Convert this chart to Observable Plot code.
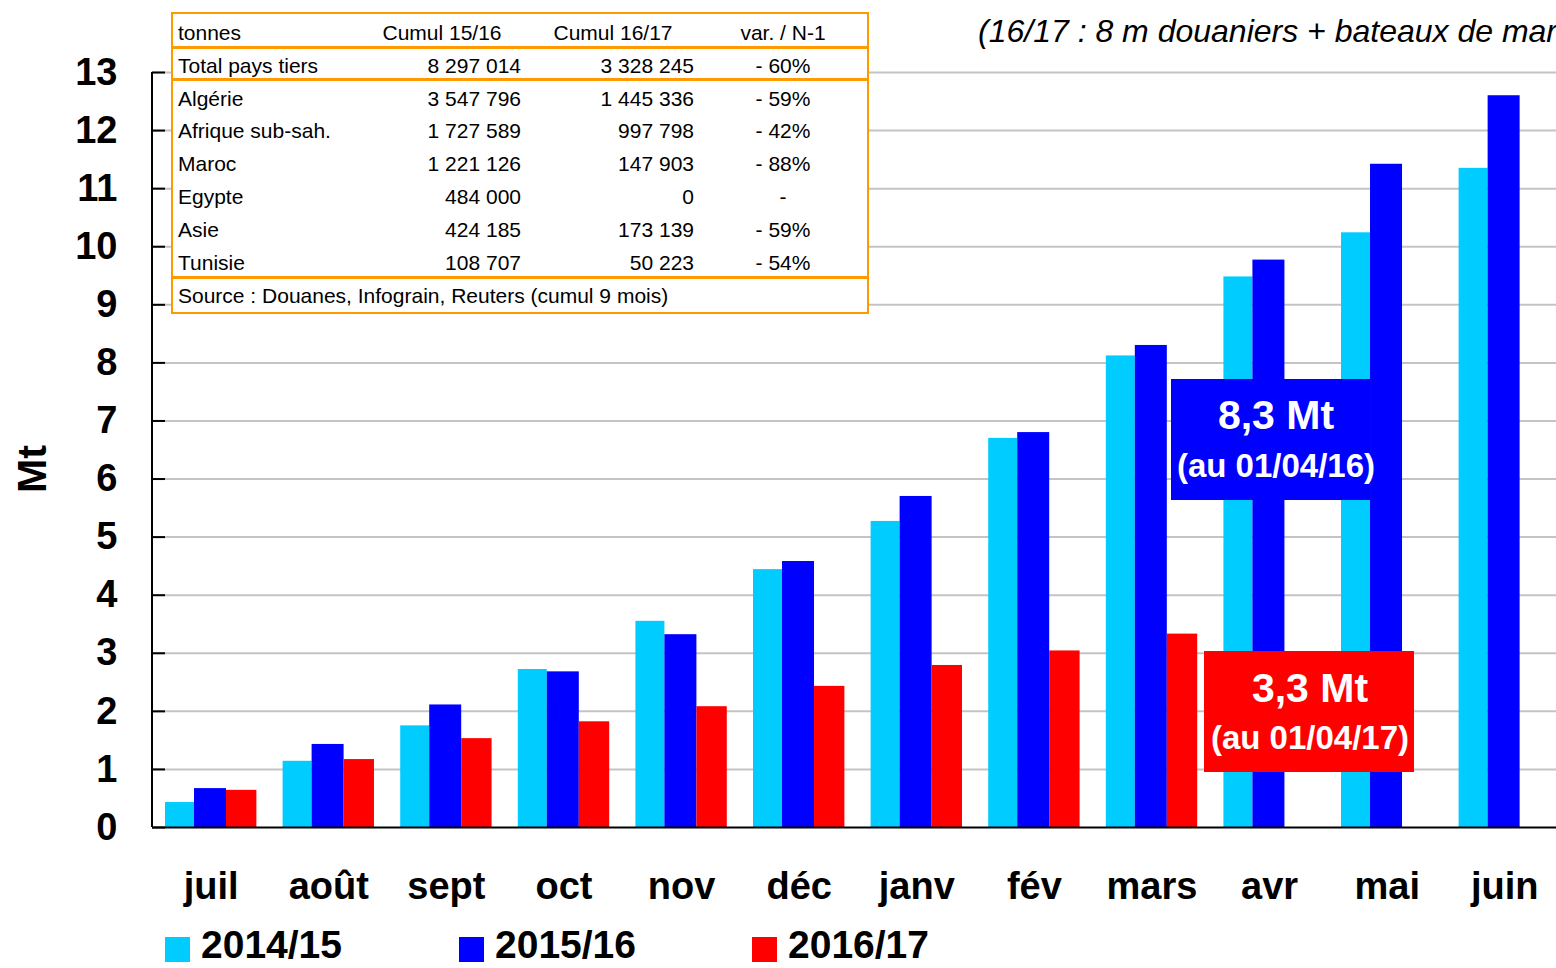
<!DOCTYPE html>
<html><head><meta charset="utf-8">
<script src="https://cdn.jsdelivr.net/npm/d3@7"></script>
<script src="https://cdn.jsdelivr.net/npm/@observablehq/plot@0.6"></script>
<style>
body{margin:0;background:#fff;}
#wrap{position:relative;width:1556px;height:968px;overflow:hidden;font-family:"Liberation Sans",Arial,sans-serif;color:#000;}
.abs{position:absolute;white-space:nowrap;}
#wrap svg{display:block;}
</style></head><body><div id="wrap"></div>
<script>
// ---- data ----
const months = ["juil","août","sept","oct","nov","déc","janv","fév","mars","avr","mai","juin"];
const seriesNames = ["2014/15","2015/16","2016/17"];
const seriesColors = ["#00CCFF","#0000FF","#FF0000"];
const v1415 = [0.43,1.14,1.75,2.72,3.55,4.44,5.27,6.70,8.12,9.48,10.24,11.35];
const v1516 = [0.67,1.43,2.11,2.68,3.32,4.58,5.70,6.80,8.30,9.77,11.42,12.60];
const v1617 = [0.64,1.17,1.53,1.82,2.08,2.43,2.79,3.04,3.33];
const yTicks = [0,1,2,3,4,5,6,7,8,9,10,11,12,13];
const yLabel = "Mt";
const tableHeader = ["tonnes","Cumul 15/16","Cumul 16/17","var. / N-1"];
const tableTotal = ["Total pays tiers","8 297 014","3 328 245","- 60%"];
const tableRows = [
  ["Algérie","3 547 796","1 445 336","- 59%"],
  ["Afrique sub-sah.","1 727 589","997 798","- 42%"],
  ["Maroc","1 221 126","147 903","- 88%"],
  ["Egypte","484 000","0","-"],
  ["Asie","424 185","173 139","- 59%"],
  ["Tunisie","108 707","50 223","- 54%"]
];
const tableSource = "Source : Douanes, Infograin, Reuters (cumul 9 mois)";
const subtitle = "(16/17 : 8 m douaniers + bateaux de mar";
const notes = [
  {big:"8,3 Mt", small:"(au 01/04/16)"},
  {big:"3,3 Mt", small:"(au 01/04/17)"}
];

// ---- build ----
const allSeries = [v1415, v1516, v1617];
const data = months.flatMap((m,i) => allSeries.map((arr,k) => arr[i] != null ? {month:m, series:seriesNames[k], value:arr[i]} : null).filter(Boolean));

const W = 1556, H = 925, ML = 152, MR = 0, MT = 72, MB = 98;
const xRange = [165, 1550], pad = 0.223;
const step = (xRange[1]-xRange[0])/(months.length - pad);
const bw = step*(1-pad);
const splits = [0, 29, 61, bw];

const barMarks = seriesNames.map((s,k) => Plot.barY(data.filter(d => d.series === s), {
  x:"month", y:"value", fill: seriesColors[k],
  insetLeft: splits[k], insetRight: bw - splits[k+1]
}));

const chart = Plot.plot({
  width: W, height: H,
  marginLeft: ML, marginRight: MR, marginTop: MT, marginBottom: MB,
  x: {domain: months, range: xRange, paddingInner: pad, paddingOuter: 0, round: false, label: null},
  y: {domain: [0,13], label: null},
  style: {fontFamily: '"Liberation Sans", Arial, sans-serif', fontWeight: "bold", fontSize: "38px", color: "#000", background: "transparent", overflow: "visible"},
  marks: [
    Plot.ruleY(yTicks.filter(d => d > 0), {stroke: "#c4c4c4", strokeWidth: 2}),
    ...barMarks,
    Plot.tickY(yTicks, {y: d => d, stroke: "#000", strokeWidth: 2, insetRight: W - ML - MR - 13}),
    Plot.rect([0], {y1: 0, y2: 13, fill: "#000", insetLeft: -1, insetRight: W - ML - MR - 1}),
    Plot.ruleY([0], {stroke: "#000", strokeWidth: 2}),
    Plot.axisX({tickSize: 0, tickPadding: 45, fontSize: 38, fontWeight: "bold", label: null}),
    Plot.axisY({ticks: yTicks, tickSize: 0, tickPadding: 35, fontSize: 38, fontWeight: "bold", label: null})
  ]
});

const wrap = document.getElementById("wrap");
wrap.appendChild(chart);

function el(css, text, parent = wrap) {
  const d = document.createElement("div");
  d.className = "abs";
  d.style.cssText = css;
  if (text != null) d.textContent = text;
  parent.appendChild(d);
  return d;
}

// y label
el(`left:32px;top:469px;transform:translate(-50%,-50%) rotate(-90deg);font-size:41px;font-weight:bold;line-height:1;`, yLabel);

// subtitle
el(`left:978px;top:15px;font-size:32px;font-style:italic;line-height:32px;`, subtitle);

// table box
el(`left:171px;top:12px;width:698px;height:302px;box-sizing:border-box;border:2px solid #FF9900;background:#fff;`);
[47, 79, 277].forEach(y => el(`left:171px;top:${y-1.5}px;width:698px;height:3px;background:#FF9900;`));
const rowCenters = [33, 66, 99, 131, 164, 197, 230, 263, 296];
const fs = "font-size:21px;line-height:24px;";
function row(cells, yc, header) {
  const top = yc - 12;
  el(`left:178px;top:${top}px;${fs}`, cells[0]);
  if (header) {
    el(`left:442px;top:${top}px;transform:translateX(-50%);${fs}`, cells[1]);
    el(`left:613px;top:${top}px;transform:translateX(-50%);${fs}`, cells[2]);
  } else {
    el(`right:${W-521}px;top:${top}px;${fs}`, cells[1]);
    el(`right:${W-694}px;top:${top}px;${fs}`, cells[2]);
  }
  el(`left:783px;top:${top}px;transform:translateX(-50%);${fs}`, cells[3]);
}
row(tableHeader, rowCenters[0], true);
row(tableTotal, rowCenters[1], false);
tableRows.forEach((r,i) => row(r, rowCenters[i+2], false));
el(`left:178px;top:${rowCenters[8]-12}px;${fs}`, tableSource);

// annotation boxes
const boxes = [
  {l:1171, t:379, w:199, h:121, bg:"#0000FF", cx:1276, y1:415, y2:466},
  {l:1204, t:651, w:210, h:121, bg:"#FF0000", cx:1310, y1:688, y2:738}
];
boxes.forEach((b,i) => {
  el(`left:${b.l}px;top:${b.t}px;width:${b.w}px;height:${b.h}px;background:${b.bg};`);
  el(`left:${b.cx}px;top:${b.y1-20}px;transform:translateX(-50%);font-size:41px;line-height:40px;font-weight:bold;color:#fff;`, notes[i].big);
  el(`left:${b.cx}px;top:${b.y2-17}px;transform:translateX(-50%);font-size:33px;line-height:34px;font-weight:bold;color:#fff;`, notes[i].small);
});

// legend
const legX = [165, 459, 752];
seriesNames.forEach((s,k) => {
  el(`left:${legX[k]}px;top:937px;width:25px;height:25px;background:${seriesColors[k]};`);
  el(`left:${legX[k]+36}px;top:928px;font-size:39px;line-height:34px;font-weight:bold;`, s);
});
</script></body></html>
